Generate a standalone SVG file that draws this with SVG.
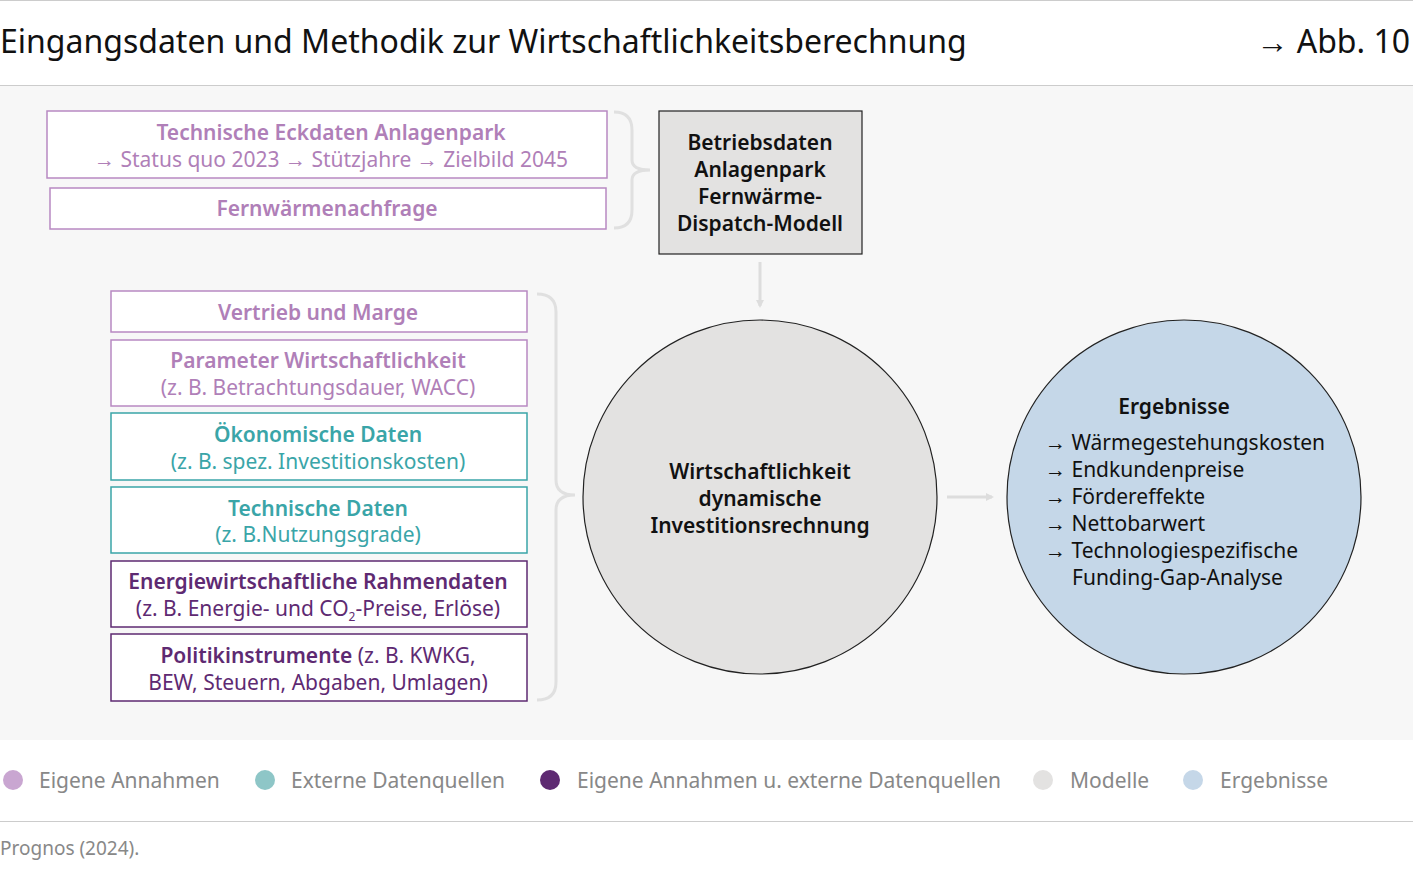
<svg xmlns="http://www.w3.org/2000/svg" width="1413" height="876" viewBox="0 0 1413 876">
<style>
text{font-family:"Noto Sans","Open Sans",sans-serif}
.lp{fill:#fff;stroke:#b889c2;stroke-width:1.5}
.tl{fill:#b07fb8;font-size:21px;text-anchor:middle}
.te{fill:#fff;stroke:#3aa5a8;stroke-width:1.5}
.tt{fill:#3aa5a8;font-size:21px;text-anchor:middle}
.dp{fill:#fff;stroke:#5e2a72;stroke-width:1.5}
.td{fill:#5e2a72;font-size:21px;text-anchor:middle}
.b{font-weight:600}
.br{fill:none;stroke:#e0e0e0;stroke-width:3}
.k{fill:#111;font-size:21px}
.lg{fill:#888;font-size:21px}
</style>
<defs><marker id="a" markerWidth="8" markerHeight="8" refX="6" refY="4" orient="auto" markerUnits="userSpaceOnUse"><path d="M0,0L8,4L0,8z" fill="#ddd"/></marker></defs>
<rect width="1413" height="876" fill="#fff"/>
<line x1="0" y1="0.5" x2="1413" y2="0.5" stroke="#ccc"/>
<text x="0" y="53" style="font-size:32px" fill="#111">Eingangsdaten und Methodik zur Wirtschaftlichkeitsberechnung</text>
<text x="1410" y="53" style="font-size:32px" fill="#111" text-anchor="end">→ Abb. 10</text>
<line x1="0" y1="85.5" x2="1413" y2="85.5" stroke="#ccc"/>
<rect x="0" y="86" width="1413" height="654" fill="#f7f7f7"/>
<g id="n1"><rect class="lp" x="47" y="111" width="560" height="67"/><text class="tl b" x="331" y="140">Technische Eckdaten Anlagenpark</text><text class="tl" x="331" y="167">→ Status quo 2023  → Stützjahre  → Zielbild 2045</text></g>
<g id="n2"><rect class="lp" x="50" y="188" width="556" height="41"/><text class="tl b" x="327" y="216">Fernwärmenachfrage</text></g>
<g id="m"><rect x="659" y="111" width="203" height="143" fill="#e3e2e1" stroke="#222" stroke-width="1.2"/>
<text class="k b" text-anchor="middle" x="760" y="150">Betriebsdaten</text><text class="k b" text-anchor="middle" x="760" y="177">Anlagenpark</text><text class="k b" text-anchor="middle" x="760" y="204">Fernwärme-</text><text class="k b" text-anchor="middle" x="760" y="231">Dispatch-Modell</text></g>
<g id="n3"><rect class="lp" x="111" y="291" width="416" height="41"/><text class="tl b" x="318" y="320">Vertrieb und Marge</text></g>
<g id="n4"><rect class="lp" x="111" y="340" width="416" height="66"/><text class="tl b" x="318" y="368">Parameter Wirtschaftlichkeit</text><text class="tl" x="318" y="395">(z. B. Betrachtungsdauer, WACC)</text></g>
<g id="n5"><rect class="te" x="111" y="413" width="416" height="67"/><text class="tt b" x="318" y="442">Ökonomische Daten</text><text class="tt" x="318" y="469">(z. B. spez. Investitionskosten)</text></g>
<g id="n6"><rect class="te" x="111" y="487" width="416" height="66"/><text class="tt b" x="318" y="516">Technische Daten</text><text class="tt" x="318" y="542">(z. B.Nutzungsgrade)</text></g>
<g id="n7"><rect class="dp" x="111" y="561" width="416" height="66"/><text class="td b" x="318" y="589">Energiewirtschaftliche Rahmendaten</text><text class="td" x="318" y="616">(z. B. Energie- und CO<tspan font-size="12" dy="5">2</tspan><tspan dy="-5">-Preise, Erlöse)</tspan></text></g>
<g id="n8"><rect class="dp" x="111" y="634" width="416" height="67"/><text class="td" x="318" y="663"><tspan class="b">Politikinstrumente</tspan> (z. B. KWKG,</text><text class="td" x="318" y="690">BEW, Steuern, Abgaben, Umlagen)</text></g>
<g id="c1"><circle cx="760" cy="497" r="177" fill="#e3e2e1" stroke="#222" stroke-width="1.2"/>
<text class="k b" text-anchor="middle" x="760" y="479">Wirtschaftlichkeit</text><text class="k b" text-anchor="middle" x="760" y="506">dynamische</text><text class="k b" text-anchor="middle" x="760" y="533">Investitionsrechnung</text></g>
<g id="c2"><circle cx="1184" cy="497" r="177" fill="#c5d7e8" stroke="#222" stroke-width="1.2"/>
<text class="k b" text-anchor="middle" x="1174" y="414">Ergebnisse</text>
<text class="k" x="1045" y="450">→ Wärmegestehungskosten</text><text class="k" x="1045" y="477">→ Endkundenpreise</text><text class="k" x="1045" y="504">→ Fördereffekte</text><text class="k" x="1045" y="531">→ Nettobarwert</text><text class="k" x="1045" y="558">→ Technologiespezifische</text><text class="k" x="1072" y="585">Funding-Gap-Analyse</text></g>
<g id="conn">
<path class="br" d="M614,112 Q632,112 632,130 L632,160 Q632,170 650,170 Q632,170 632,180 L632,210 Q632,228 614,228"/>
<path class="br" d="M537,294 Q556,294 556,312 L556,480 Q556,495 575,495 Q556,495 556,510 L556,682 Q556,700 537,700"/>
<line x1="760" y1="262" x2="760" y2="306" stroke="#ddd" stroke-width="3" marker-end="url(#a)"/>
<line x1="947" y1="497" x2="992" y2="497" stroke="#ddd" stroke-width="3" marker-end="url(#a)"/>
</g>
<g id="legend">
<circle cx="13" cy="780" r="10" fill="#c9a6d1"/><text class="lg" x="39" y="788">Eigene Annahmen</text>
<circle cx="265" cy="780" r="10" fill="#8ec6c7"/><text class="lg" x="291" y="788">Externe Datenquellen</text>
<circle cx="550" cy="780" r="10" fill="#5e2a72"/><text class="lg" x="577" y="788">Eigene Annahmen u. externe Datenquellen</text>
<circle cx="1043" cy="780" r="10" fill="#e3e2e1"/><text class="lg" x="1070" y="788">Modelle</text>
<circle cx="1193" cy="780" r="10" fill="#c5d7e8"/><text class="lg" x="1220" y="788">Ergebnisse</text>
</g>
<line x1="0" y1="821.5" x2="1413" y2="821.5" stroke="#ccc"/>
<text x="0" y="855" fill="#888" style="font-size:19px">Prognos (2024).</text>
</svg>
